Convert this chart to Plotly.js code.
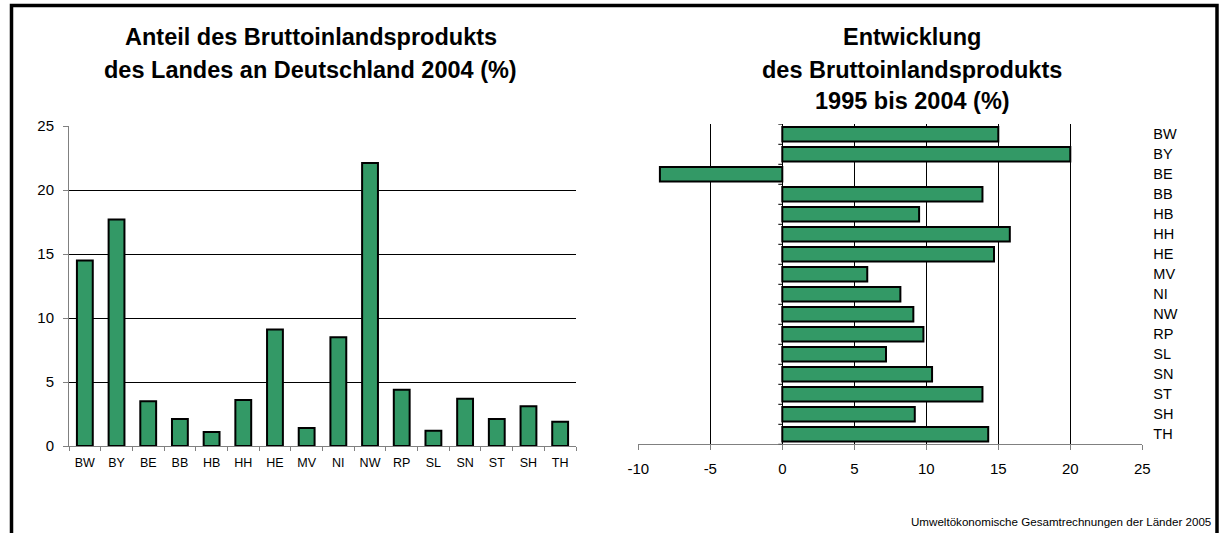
<!DOCTYPE html>
<html>
<head>
<meta charset="utf-8">
<script src="https://cdn.plot.ly/plotly-3.0.1.min.js"></script>
<style>html,body{margin:0;padding:0;background:#fff;}#chart{width:1220px;height:533px;}</style>
</head>
<body>
<div id="chart"></div>
<script>
// Data
const laender = ["BW","BY","BE","BB","HB","HH","HE","MV","NI","NW","RP","SL","SN","ST","SH","TH"];
const anteilBIP2004 = [14.5, 17.7, 3.5, 2.1, 1.1, 3.6, 9.1, 1.4, 8.5, 22.1, 4.4, 1.2, 3.7, 2.1, 3.1, 1.9];
const entwicklungBIP = [15.0, 20.0, -8.5, 13.9, 9.5, 15.8, 14.7, 5.9, 8.2, 9.1, 9.8, 7.2, 10.4, 13.9, 9.2, 14.3];
const xTickVals2 = [-10, -5, 0, 5, 10, 15, 20, 25];
const xTickText2 = ["-10", "-5", "0", "5", "10", "15", "20", "25"];
const titleLeft = ["Anteil des Bruttoinlandsprodukts", "des Landes an Deutschland 2004 (%)"];
const titleRight = ["Entwicklung", "des Bruttoinlandsprodukts", "1995 bis 2004 (%)"];
const footer = "Umweltökonomische Gesamtrechnungen der Länder 2005";

const W = 1220, H = 533;
const FONT = "Liberation Sans, Arial, Helvetica, sans-serif";
const GREEN = "#339966";
const px = v => v / W;
const py = v => 1 - v / H;

const traces = [
  {
    type: "bar", x: laender, y: anteilBIP2004, xaxis: "x", yaxis: "y",
    width: 0.5,
    marker: {color: GREEN, line: {color: "#000", width: 2}},
    hoverinfo: "x+y"
  },
  {
    type: "bar", orientation: "h", y: laender, x: entwicklungBIP, xaxis: "x2", yaxis: "y2",
    width: 0.72,
    marker: {color: GREEN, line: {color: "#000", width: 2}},
    hoverinfo: "x+y"
  }
];

const annotations = [];
const tl = [37, 70];
titleLeft.forEach((t, i) => annotations.push({
  text: t, xref: "paper", yref: "paper", x: px(310.5), y: py(tl[i]),
  xanchor: "center", yanchor: "middle", showarrow: false,
  font: {family: FONT, size: 23.5, color: "#000", weight: "bold"}
}));
const tr = [37, 70, 101];
titleRight.forEach((t, i) => annotations.push({
  text: t, xref: "paper", yref: "paper", x: px(912), y: py(tr[i]),
  xanchor: "center", yanchor: "middle", showarrow: false,
  font: {family: FONT, size: 23.5, color: "#000", weight: "bold"}
}));
annotations.push({
  text: footer, xref: "paper", yref: "paper", x: px(1213), y: py(521),
  xanchor: "right", yanchor: "middle", showarrow: false,
  font: {family: FONT, size: 11.6, color: "#000"}
});

const shapes = [
  {type: "rect", xref: "paper", yref: "paper", x0: px(11.5), x1: px(1217), y0: -0.1, y1: py(5.5),
   line: {color: "#000", width: 3.5}, fillcolor: "rgba(0,0,0,0)", layer: "below"}
];
for (let i = 0; i <= laender.length; i++) {
  shapes.push({type: "line", xref: "x2", yref: "y2", xsizemode: "pixel", xanchor: 0,
    x0: -4, x1: 0, y0: i - 0.5, y1: i - 0.5, line: {color: "#000", width: 1}});
}

const layout = {
  width: W, height: H, autosize: false,
  margin: {l: 0, r: 0, t: 0, b: 0, pad: 0},
  paper_bgcolor: "#fff", plot_bgcolor: "rgba(0,0,0,0)",
  showlegend: false,
  font: {family: FONT, color: "#000"},
  xaxis: {
    domain: [px(69), px(576)], anchor: "y", type: "category",
    categoryorder: "array", categoryarray: laender,
    showline: true, linecolor: "#808080", linewidth: 1,
    ticks: "outside", tickson: "boundaries", ticklen: 4, tickcolor: "#808080",
    ticklabelstandoff: 5,
    tickfont: {size: 12.5, family: FONT}, showgrid: false, zeroline: false,
    fixedrange: true
  },
  yaxis: {
    domain: [1 - 446 / H, 1 - 126 / H], anchor: "x",
    range: [0, 25], dtick: 5, tick0: 0,
    showline: true, linecolor: "#808080", linewidth: 1,
    ticks: "outside", ticklen: 5, tickcolor: "#808080", ticklabelstandoff: 6,
    tickfont: {size: 15, family: FONT},
    showgrid: true, gridcolor: "#000", gridwidth: 1, zeroline: false,
    fixedrange: true
  },
  xaxis2: {
    domain: [px(638.3), px(1142.3)], anchor: "y2",
    range: [-10, 25], tickmode: "array", tickvals: xTickVals2, ticktext: xTickText2,
    showline: true, linecolor: "#808080", linewidth: 1,
    ticks: "outside", ticklen: 5, tickcolor: "#808080", ticklabelstandoff: 6,
    tickfont: {size: 15, family: FONT},
    showgrid: true, gridcolor: "#000", gridwidth: 1,
    zeroline: true, zerolinecolor: "#000", zerolinewidth: 1,
    fixedrange: true
  },
  yaxis2: {
    domain: [1 - 444.3 / H, 1 - 124.3 / H], anchor: "x2", side: "right",
    type: "category", categoryorder: "array", categoryarray: laender,
    range: [laender.length - 0.5, -0.5],
    showline: false, ticks: "", ticklabelstandoff: 10,
    tickfont: {size: 14.5, family: FONT},
    showgrid: false, zeroline: false, fixedrange: true
  },
  annotations: annotations,
  shapes: shapes
};

Plotly.newPlot("chart", traces, layout, {displayModeBar: false, staticPlot: true});
</script>
</body>
</html>
